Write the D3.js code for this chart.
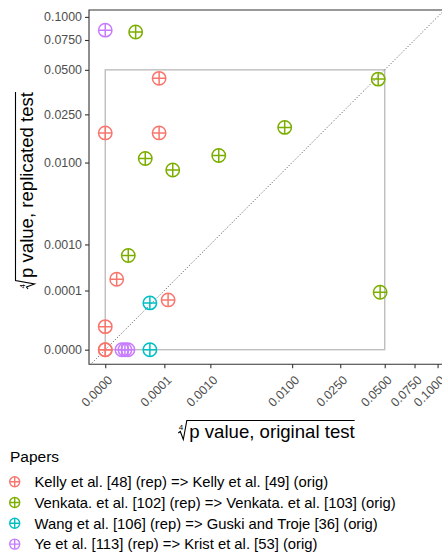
<!DOCTYPE html>
<html>
<head>
<meta charset="utf-8">
<script src="https://cdn.jsdelivr.net/npm/d3@7/dist/d3.min.js"></script>
<style>
  body { margin: 0; background: #fff; }
  text { font-family: "Liberation Sans", Arial, sans-serif; }
</style>
</head>
<body>
<svg id="chart" width="442" height="554"></svg>
<script>
// legend labels and colours (ggplot hue defaults)
var papers = ['Kelly et al. [48] (rep) => Kelly et al. [49] (orig)',
              'Venkata. et al. [102] (rep) => Venkata. et al. [103] (orig)',
              'Wang et al. [106] (rep) => Guski and Troje [36] (orig)',
              'Ye et al. [113] (rep) => Krist et al. [53] (orig)'];
var colors = ['#F8766D', '#7CAE00', '#00BFC4', '#C77CFF'];

// p values: original test (x) vs replicated test (y)
var kellyOrig = [0, 0, 0, 0, 6.9e-5, 6.9e-5, 1.4e-7, 1.28e-4];
var kellyRep  = [0, 0, 2.3e-6, 0.018, 0.018, 0.0442, 2.0e-4, 5.0e-5];
var venkOrig  = [7e-6, 2.1e-5, 1.7e-4, 1.36e-3, 8.5e-3, 0.0455, 2.3e-6, 0.0468];
var venkRep   = [0.083, 0.0109, 0.0085, 0.0116, 0.0199, 0.0437, 6.4e-4, 8.9e-5];
var wangOrig  = [3.25e-5, 3.25e-5];
var wangRep   = [3.9e-5, 0];
var yeOrig    = [0, 6.3e-7, 1.23e-6, 2.16e-6];
var yeRep     = [0.085, 0, 0, 0];

var tickValues = [0, 0.0001, 0.001, 0.01, 0.025, 0.05, 0.075, 0.1];
var boxLimit = 0.05;

var svg = d3.select('#chart');
var pLeft = 89, pRight = 443, pTop = 10, pBottom = 364.3;

function sr(r) { return r < 0 ? -Math.pow(-r, 4) : Math.pow(r, 4); }
var x = d3.scalePow().exponent(0.25).domain([sr(-0.0275), sr(0.5715)]).range([pLeft, pRight]);
var y = d3.scalePow().exponent(0.25).domain([sr(-0.0247), sr(0.574)]).range([pBottom, pTop]);

var data = [];
[[kellyOrig, kellyRep], [venkOrig, venkRep], [wangOrig, wangRep], [yeOrig, yeRep]].forEach(function(s, i) {
  s[0].forEach(function(v, j) { data.push({x: v, y: s[1][j], g: i}); });
});

svg.append('clipPath').attr('id', 'clip')
  .append('rect').attr('x', pLeft).attr('y', pTop).attr('width', pRight - pLeft).attr('height', pBottom - pTop);

var panel = svg.append('g').attr('clip-path', 'url(#clip)');

// reference box 0..0.05 on both axes
panel.append('rect')
  .attr('x', x(0)).attr('y', y(boxLimit))
  .attr('width', x(boxLimit) - x(0)).attr('height', y(0) - y(boxLimit))
  .attr('fill', 'none').attr('stroke', '#bebebe').attr('stroke-width', 1.4);

// y = x line
var diag = d3.range(0, 41).map(function(i) { var r = -0.03 + i * 0.6 / 40; return sr(r); });
panel.append('path')
  .attr('d', d3.line().x(function(d) { return x(d); }).y(function(d) { return y(d); })(diag))
  .attr('fill', 'none').attr('stroke', '#333').attr('stroke-width', 0.9)
  .attr('stroke-dasharray', '1,2');

function plusCircle(g, r, sw) {
  g.append('circle').attr('r', r).attr('fill', 'none').attr('stroke-width', sw);
  g.append('path').attr('d', 'M' + (-r) + ',0H' + r + 'M0,' + (-r) + 'V' + r)
    .attr('fill', 'none').attr('stroke-width', sw);
}

var pts = panel.selectAll('g.pt').data(data).enter().append('g')
  .attr('class', 'pt')
  .attr('transform', function(d) { return 'translate(' + x(d.x) + ',' + y(d.y) + ')'; })
  .attr('stroke', function(d) { return colors[d.g]; });
pts.each(function() { plusCircle(d3.select(this), 6.7, 1.5); });

// panel border (top, left, bottom)
svg.append('path')
  .attr('d', 'M' + pRight + ',' + pTop + 'H' + pLeft + 'V' + pBottom + 'H' + pRight)
  .attr('fill', 'none').attr('stroke', '#333').attr('stroke-width', 1.1);

// axes
var fmt = d3.format('.4f');
var yAxis = svg.append('g').attr('transform', 'translate(' + pLeft + ',0)')
  .call(d3.axisLeft(y).tickValues(tickValues).tickFormat(fmt).tickSize(4).tickPadding(3));
var xAxis = svg.append('g').attr('transform', 'translate(0,' + pBottom + ')')
  .call(d3.axisBottom(x).tickValues(tickValues).tickFormat(fmt).tickSize(4).tickPadding(3));
[xAxis, yAxis].forEach(function(a) {
  a.attr('font-size', null).attr('font-family', null);
  a.select('.domain').remove();
  a.selectAll('line').attr('stroke', '#333').attr('stroke-width', 1.1);
  a.selectAll('text').attr('fill', '#4d4d4d').style('font-size', '12.4px');
});
xAxis.selectAll('text')
  .attr('y', 0).attr('dy', 0)
  .attr('text-anchor', 'end')
  .attr('transform', 'translate(7.5,16.5) rotate(-45)');

// axis titles with fourth-root sign
function rootTitle(g, label) {
  var t = g.append('text').attr('x', 0).attr('y', 0).style('font-size', '18.6px')
    .attr('fill', '#000').text(label);
  var w = t.node().getComputedTextLength();
  t.attr('x', -w / 2 + 4);
  var x0 = -w / 2 + 3, topY = -17.5;
  g.append('path')
    .attr('d', 'M' + (x0 - 10) + ',-5L' + (x0 - 8) + ',-6.5L' + (x0 - 5) + ',1.5L' + (x0 - 1.5) + ',' + topY + 'H' + (w / 2 + 4))
    .attr('fill', 'none').attr('stroke', '#000').attr('stroke-width', 1.1);
  g.append('text').attr('x', x0 - 9.5).attr('y', -8.5).style('font-size', '8px').attr('fill', '#000').text('4');
}
rootTitle(svg.append('g').attr('transform', 'translate(268,438)'), 'p value, original test');
rootTitle(svg.append('g').attr('transform', 'translate(33,189) rotate(-90)'), 'p value, replicated test');

// legend
var legend = svg.append('g').attr('transform', 'translate(0,440)');
legend.append('text').attr('x', 10).attr('y', 21.5).style('font-size', '15.5px').attr('fill', '#000').text('Papers');
var items = legend.selectAll('g.item').data(papers).enter().append('g')
  .attr('class', 'item')
  .attr('transform', function(d, i) { return 'translate(0,' + (41.7 + i * 20.8) + ')'; });
items.each(function(d, i) {
  var g = d3.select(this);
  var k = g.append('g').attr('transform', 'translate(14.7,0)').attr('stroke', colors[i]);
  plusCircle(k, 5, 1.4);
  g.append('text').attr('x', 34.5).attr('y', 5.2).style('font-size', '14.8px').attr('fill', '#000').text(d);
});
</script>
</body>
</html>
